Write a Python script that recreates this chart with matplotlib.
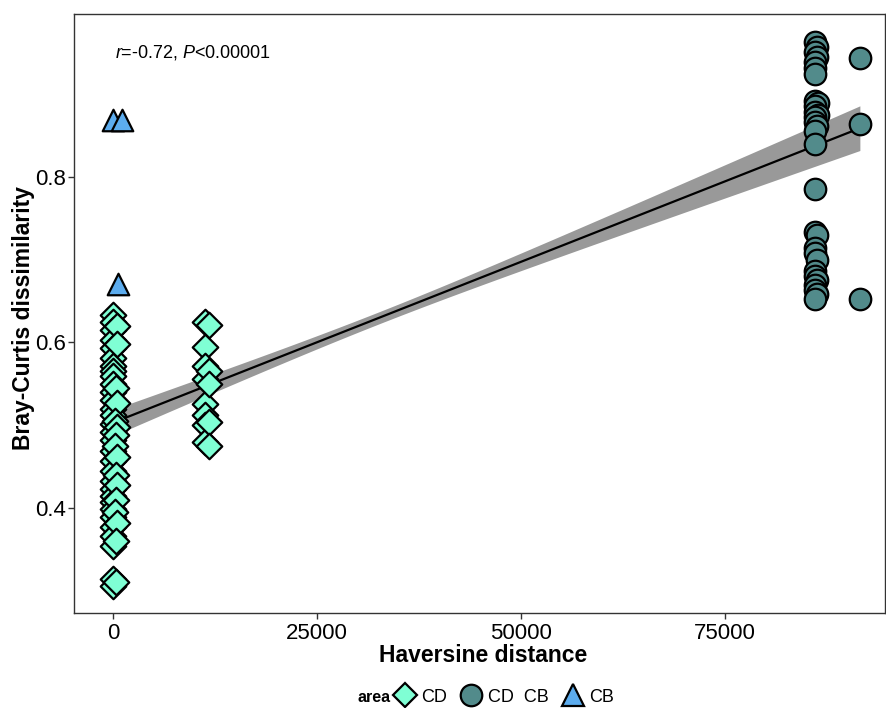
import numpy as np
import matplotlib
matplotlib.use("Agg")
import matplotlib.pyplot as plt
from matplotlib.lines import Line2D
import matplotlib.transforms as mtrans

plt.rcParams['font.family'] = ['Liberation Sans', 'DejaVu Sans']
plt.rcParams['mathtext.fontset'] = 'custom'
plt.rcParams['mathtext.rm'] = 'Liberation Sans'
plt.rcParams['mathtext.it'] = 'Liberation Sans:italic'

# ---- data ----
cd_x = [0]*31 + [500, 500, 400, 500, 300, 500, 400, 300, 500, 400, 500, 400, 300, 500, 400, 400] \
       + [11300]*8 + [11800]*5
cd_y = [0.633, 0.625, 0.615, 0.603, 0.593, 0.581, 0.572, 0.566, 0.560, 0.550, 0.540, 0.530,
        0.520, 0.512, 0.502, 0.492, 0.482, 0.469, 0.457, 0.445, 0.433, 0.423, 0.415, 0.407,
        0.399, 0.389, 0.377, 0.366, 0.354, 0.314, 0.306,
        0.620, 0.598, 0.545, 0.527, 0.505, 0.498, 0.488, 0.475, 0.462, 0.440, 0.428, 0.410,
        0.395, 0.382, 0.360, 0.310,
        0.625, 0.595, 0.572, 0.556, 0.526, 0.512, 0.500, 0.480,
        0.621, 0.566, 0.550, 0.504, 0.475]

cdcb_x = [86000, 86300, 86000, 86300, 86000, 86000, 86000, 86000, 86400, 86000, 86000, 86400,
          86000, 86000, 86300, 86000, 86000, 86000, 86000, 86300, 86000, 86000, 86300, 86000,
          86000, 86300, 86000, 86000, 86300, 86000, 91540, 91540, 91540]
cdcb_y = [0.963, 0.957, 0.951, 0.945, 0.939, 0.932, 0.925, 0.892, 0.889, 0.886, 0.878, 0.875,
          0.872, 0.866, 0.862, 0.856, 0.840, 0.786, 0.734, 0.730, 0.714, 0.708, 0.700, 0.686,
          0.680, 0.675, 0.670, 0.664, 0.658, 0.652, 0.944, 0.864, 0.653]

cb_x = [0, 1100, 570]
cb_y = [0.869, 0.869, 0.671]

# fitted line: ends, CI half-widths at ends, mean x of the fit
fit_x_ends = [0, 91540]
fit_y_ends = [0.503, 0.859]
ci_half_ends = [0.016, 0.027]
fit_x_mean = 32400

area_labels = ['CD', 'CD  CB', 'CB']
x_ticks = [0, 25000, 50000, 75000]
y_ticks = [0.4, 0.6, 0.8]

# ---- figure ----
W, H = 886, 708
fig = plt.figure(figsize=(W/100, H/100), dpi=100)
ax = fig.add_axes([74/W, 95/H, 811/W, 599/H])

# regression line and band
xs = np.linspace(fit_x_ends[0], fit_x_ends[1], 200)
slope = (fit_y_ends[1]-fit_y_ends[0])/(fit_x_ends[1]-fit_x_ends[0])
ys = fit_y_ends[0] + slope*(xs-fit_x_ends[0])
d0 = (fit_x_ends[0]-fit_x_mean)**2
d1 = (fit_x_ends[1]-fit_x_mean)**2
b = (ci_half_ends[1]**2 - ci_half_ends[0]**2)/(d1-d0)
a = ci_half_ends[0]**2 - b*d0
half = np.sqrt(a + b*(xs-fit_x_mean)**2)
ax.fill_between(xs, ys-half, ys+half, color='#999999', lw=0, zorder=1)
ax.plot(xs, ys, color='black', lw=1.6, zorder=2)

ec = 'black'
lw = 1.6
ax.scatter(cd_x, cd_y, marker='D', s=13.0**2, c='#7FFFD4', edgecolors=ec, linewidths=lw, zorder=3)
ax.scatter(cdcb_x, cdcb_y, marker='o', s=15.5**2, c='#528B8B', edgecolors=ec, linewidths=lw, zorder=3)
ax.scatter(cb_x, cb_y, marker='^', s=15.5**2, c='#5CACEE', edgecolors=ec, linewidths=lw, zorder=3)

ax.set_xlim(-4780, 94620)
ax.set_ylim(0.273, 0.997)
ax.set_xticks(x_ticks)
ax.set_xticklabels([str(t) for t in x_ticks])
ax.set_yticks(y_ticks)
ax.set_yticklabels([f'{t:.1f}' for t in y_ticks])
ax.tick_params(labelsize=16, length=4, width=1, color='#333333')
ax.tick_params(axis='x', pad=3)
ax.tick_params(axis='y', pad=1.5)
for s in ax.spines.values():
    s.set_color('#333333')
    s.set_linewidth(1.0)

fig.text(483/W, 1-655/H, 'Haversine distance', ha='center', va='center',
         fontsize=16.5, fontweight='bold')
fig.text(24/W, 1-318/H, 'Bray-Curtis dissimilarity', ha='center', va='center',
         fontsize=16.5, fontweight='bold', rotation=90)

ax.text(115, 1-52/H, r'$\mathit{r}$=-0.72, $\mathit{P}$<0.00001', fontsize=13,
        ha='left', va='center', transform=mtrans.blended_transform_factory(
            mtrans.IdentityTransform(), fig.transFigure))

# legend
fig.text(358/W, 1-697/H, 'area', ha='left', va='center', fontsize=11.5, fontweight='bold')
handles = [
    Line2D([], [], marker='D', ls='', ms=12.0, mfc='#7FFFD4', mec=ec, mew=lw),
    Line2D([], [], marker='o', ls='', ms=15.5, mfc='#528B8B', mec=ec, mew=lw),
    Line2D([], [], marker='^', ls='', ms=15.5, mfc='#5CACEE', mec=ec, mew=lw),
]
fig.legend(handles, area_labels, loc='center left', bbox_to_anchor=(394/W, 1-697/H),
           ncol=3, frameon=False, fontsize=13, handlelength=1.2, handletextpad=0.3,
           columnspacing=0.75, borderpad=0, borderaxespad=0)

fig.savefig('out.png', dpi=100)
